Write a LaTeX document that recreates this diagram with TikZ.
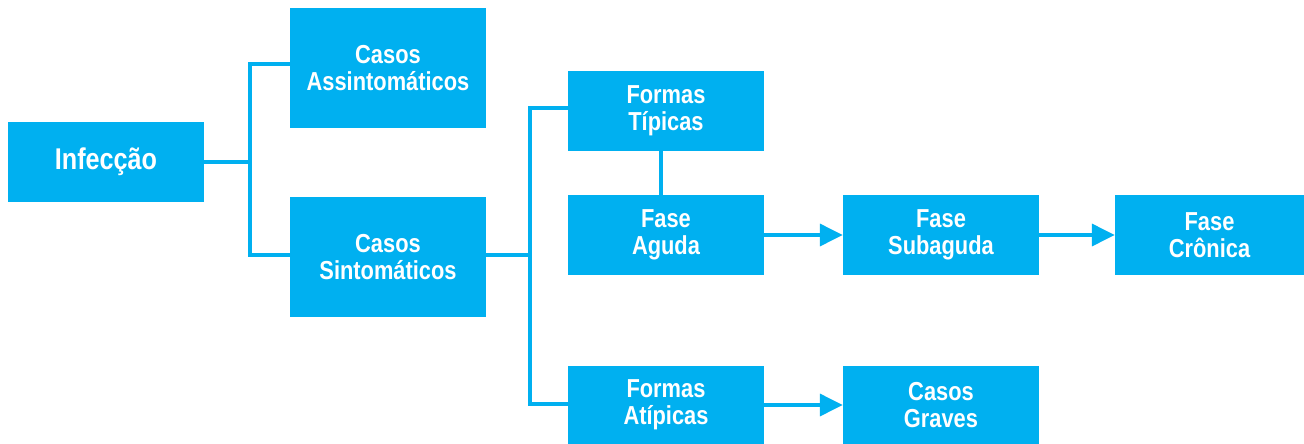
\documentclass[tikz,border=0pt]{standalone}
\usepackage{fontspec}
\setmainfont{Liberation Sans}[FakeStretch=0.84]
\usetikzlibrary{arrows.meta}
\definecolor{boxblue}{HTML}{00B0F0}
\tikzset{
  box/.style={fill=boxblue, draw=none, text=white, font=\bfseries\fontsize{26}{27}\selectfont,
    align=center, minimum width=196pt, minimum height=80pt, inner sep=0pt},
  conn/.style={draw=boxblue, line width=3.5pt},
  arr/.style={conn, -{Triangle[length=23pt,width=22pt]}, shorten >=0pt}
}
\begin{document}
\begin{tikzpicture}[x=1pt,y=-1pt]
\useasboundingbox[fill=white] (0,0) rectangle (1304,444);
\node[box, font=\bfseries\fontsize{30}{32}\selectfont] (inf) at (106,162) {Infecção};
\node[box, minimum height=120pt] (asx) at (388,68) {Casos\\Assintomáticos};
\node[box, minimum height=120pt] (sin) at (388,257) {Casos\\Sintomáticos};
\node[box] (tip) at (666,111) {Formas\\Típicas};
\node[box] (agu) at (666,235) {Fase\\Aguda};
\node[box] (sub) at (941,235) {Fase\\Subaguda};
\node[box, minimum width=189pt] (cro) at (1209.5,235) {Fase\\Crônica};
\node[box, minimum height=78pt] (atp) at (666,405) {Formas\\Atípicas};
\node[box, minimum height=78pt] (gra) at (941,405) {Casos\\Graves};
\coordinate (b1) at (250,162);
\coordinate (b2) at (530,255);
\draw[conn] (inf.east) -- (b1);
\draw[conn] ([yshift=4pt]asx.west) -| (b1) |- ([yshift=2pt]sin.west);
\draw[conn] ([yshift=2pt]sin.east) -- (b2);
\draw[conn] ([yshift=3pt]tip.west) -| (b2) |- ([yshift=1pt]atp.west);
\draw[conn] ([xshift=-5pt]tip.south) -- ([xshift=-5pt]agu.north);
\draw[arr] (agu.east) -- (sub.west);
\draw[arr] (sub.east) -- (cro.west);
\draw[arr] (atp.east) -- (gra.west);
\end{tikzpicture}
\end{document}
